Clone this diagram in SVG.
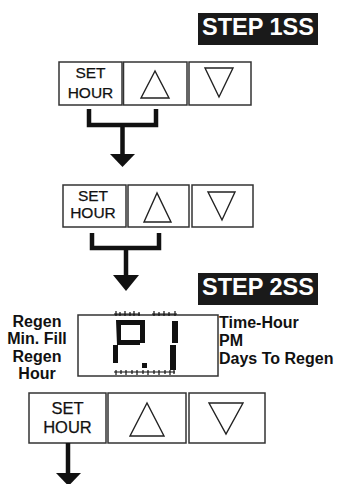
<svg xmlns="http://www.w3.org/2000/svg" width="344" height="484" viewBox="0 0 344 484">
<style>
.btn{fill:#fff;stroke:#333;stroke-width:1.5}
.tri{fill:none;stroke:#222;stroke-width:1.4;stroke-linejoin:miter}
.bt{font-family:"Liberation Sans",Arial,sans-serif;font-size:15.5px;fill:#111;text-anchor:middle;stroke:#111;stroke-width:0.25}
.step{fill:#1a1a1a}
.st{font-family:"Liberation Sans",Arial,sans-serif;font-weight:bold;font-size:23.5px;fill:#fff;text-anchor:middle}
.lb{font-family:"Liberation Sans",Arial,sans-serif;font-weight:bold;font-size:16px;fill:#111}
.conn{fill:none;stroke:#111;stroke-width:4.5}
.head{fill:#111}
.seg{fill:#111}
.tick{fill:none;stroke:#111;stroke-width:1.2}
</style>
<g id="step1">
<rect class="step" x="198" y="13" width="120" height="32"/>
<text class="st" x="258" y="35">STEP 1SS</text>
</g>
<g id="row1">
<g id="set1"><rect class="btn" x="59" y="62" width="63" height="43"/>
<text class="bt" x="90.5" y="78">SET</text><text class="bt" x="90.5" y="98">HOUR</text></g>
<g id="up1"><rect class="btn" x="123.5" y="62" width="63.5" height="43"/>
<polygon class="tri" points="155,71 141,98 169,98"/></g>
<g id="down1"><rect class="btn" x="189" y="62" width="62" height="43"/>
<polygon class="tri" points="205,68 233,68 219,97"/></g>
</g>
<g id="row2">
<g id="set2"><rect class="btn" x="63" y="185" width="63" height="42"/>
<text class="bt" x="93" y="201">SET</text><text class="bt" x="93" y="218">HOUR</text></g>
<g id="up2"><rect class="btn" x="128" y="185" width="61" height="42"/>
<polygon class="tri" points="157,193 144,222 171,222"/></g>
<g id="down2"><rect class="btn" x="192" y="185" width="61" height="42"/>
<polygon class="tri" points="208,192 235,192 222,220"/></g>
</g>
<g id="step2">
<rect class="step" x="198" y="273" width="120" height="32"/>
<text class="st" x="258" y="295">STEP 2SS</text>
</g>
<g id="display">
<rect x="78" y="315" width="140" height="61" fill="#fff" stroke="#333" stroke-width="1.5"/>
<path class="seg" d="M116,320 h29 v23 h-5 v-18 h-19 v15 h19 v5 h-23 z"/>
<path class="seg" d="M113,345 h5 v18 h-5 z"/>
<rect class="seg" x="142" y="363" width="5" height="5"/>
<path class="seg" d="M172,321 h6 v22 h-6 z"/>
<path class="seg" d="M170,345 h6 v25 h-6 z"/>
<path class="tick" d="M114,314 h26 M116,311 v5 M120,312 v4 M125,311 v5 M130,312 v4 M134,311 v5 M139,312 v4 M152,314 h25 M154,311 v5 M159,312 v4 M164,311 v5 M169,312 v4 M175,311 v5"/>
<path class="tick" d="M114,372 h61 M116,370 v5 M121,370 v4 M126,370 v5 M132,370 v4 M137,370 v5 M143,370 v4 M148,370 v5 M154,370 v4 M159,370 v5 M165,370 v4 M170,370 v5 M174,370 v4"/>
</g>
<g id="leftlabels">
<text class="lb" x="37" y="327" text-anchor="middle">Regen</text>
<text class="lb" x="37" y="344" text-anchor="middle">Min. Fill</text>
<text class="lb" x="37" y="362" text-anchor="middle">Regen</text>
<text class="lb" x="37" y="379" text-anchor="middle">Hour</text>
</g>
<g id="rightlabels">
<text class="lb" x="219" y="328">Time-Hour</text>
<text class="lb" x="219" y="346">PM</text>
<text class="lb" x="219" y="364">Days To Regen</text>
</g>
<g id="row3">
<g id="set3"><rect class="btn" x="29" y="393" width="77" height="50"/>
<text class="bt" x="67.5" y="414" style="font-size:16.5px">SET</text><text class="bt" x="67.5" y="433" style="font-size:16.5px">HOUR</text></g>
<g id="up3"><rect class="btn" x="108" y="393" width="78" height="50"/>
<polygon class="tri" points="147,403 130,436 164,436"/></g>
<g id="down3"><rect class="btn" x="189" y="393" width="76" height="50"/>
<polygon class="tri" points="209,403 243,403 226,434"/></g>
</g>
<g id="connectors">
<path class="conn" d="M89,109 V125 H156 V109 M122.5,125 V155"/>
<polygon class="head" points="110,154 135,154 122.5,167"/>
<path class="conn" d="M92,233 V248 H159 V233 M126,248 V276"/>
<polygon class="head" points="113,275 139,275 126,291"/>
<path class="conn" d="M68,443 V474"/>
<polygon class="head" points="56,473 81,473 68.5,486"/>
</g>
</svg>
